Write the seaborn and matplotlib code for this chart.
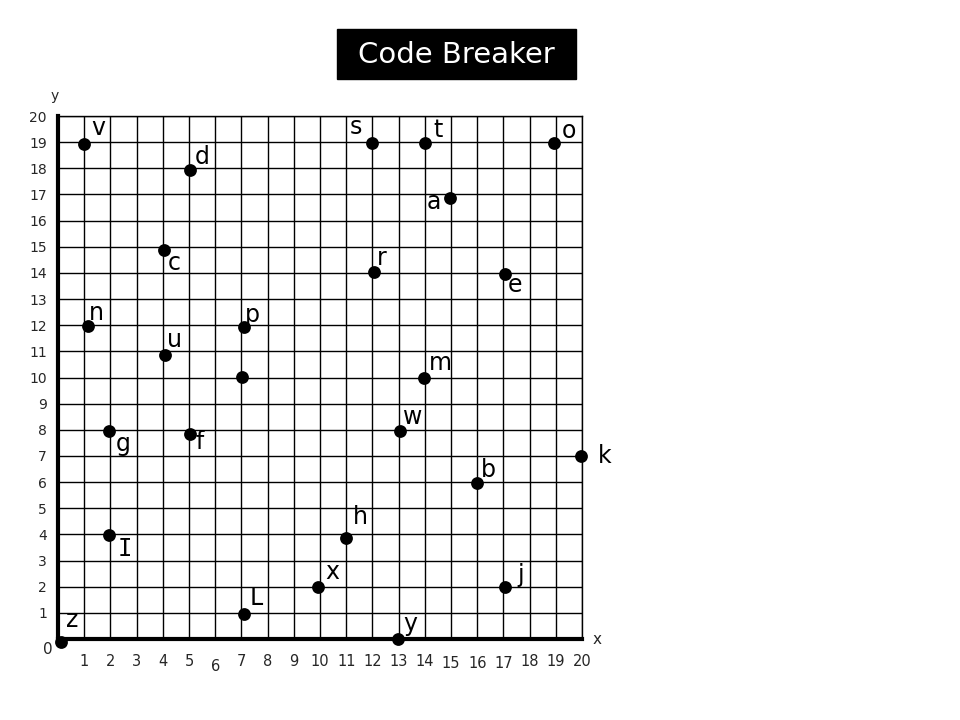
import numpy as np
import pandas as pd
import matplotlib
matplotlib.use('Agg')
import matplotlib.pyplot as plt
import matplotlib.transforms as mtransforms
from matplotlib.patches import Rectangle
import seaborn as sns

# code breaker points: letter, x, y  (blank letter = unlabelled point)
letters = ['v', 'd', 'c', 'n', 'u', 'p', '', 's', 't', 'o', 'a', 'r', 'e', 'm',
           'w', 'g', 'f', 'k', 'b', 'h', 'I', 'L', 'x', 'j', 'z', 'y']
xs = [1, 5.05, 4.03, 1.13, 4.07, 7.09, 7.03, 12, 14, 18.95, 14.97, 12.07, 17.05, 13.97,
      13.04, 1.95, 5.04, 19.96, 15.98, 11.0, 1.95, 7.09, 9.93, 17.05, 0.1, 12.99]
ys = [18.93, 17.93, 14.88, 11.97, 10.87, 11.93, 10.03, 18.98, 18.98, 18.98, 16.86, 14.02, 13.95, 10.0,
      7.95, 7.95, 7.85, 6.99, 5.97, 3.86, 3.98, 0.96, 1.99, 1.99, -0.1, 0.0]

grid_ticks = list(range(0, 21))
tick_labels = [''] + [str(i) for i in range(1, 21)]

# where each letter sits relative to its dot (pixels, right / up)
label_offset = {
    'v': (14, 16), 'd': (12, 13), 'c': (11, -13), 'n': (9, 13), 'u': (10, 15),
    'p': (9, 12), 's': (-17, 16), 't': (13, 13), 'o': (14, 12), 'a': (-16, -4),
    'r': (8, 14), 'e': (10, -11), 'm': (16, 15), 'w': (13, 14), 'g': (14, -13),
    'f': (10, -8), 'k': (24, 0), 'b': (12, 13), 'h': (14, 21), 'I': (16, -14),
    'L': (12, 16), 'x': (14, 15), 'j': (16, 12), 'z': (12, 22), 'y': (12, 15),
}

df = pd.DataFrame({'letter': letters, 'x': xs, 'y': ys})

sns.set_style('white')
plt.rcParams['font.family'] = ['DejaVu Sans']

fig = plt.figure(figsize=(9.6, 7.2), dpi=100)
ax = fig.add_axes([58 / 960, 81 / 720, 524 / 960, 523 / 720])

sns.scatterplot(data=df, x='x', y='y', color='black', s=85, edgecolor='black',
                linewidth=0, clip_on=False, zorder=5, ax=ax, legend=False)

for _, row in df.iterrows():
    if row['letter'] == '':
        continue
    dx, dy = label_offset[row['letter']]
    # capital I drawn with bars like the original handwriting font
    fam = ['DejaVu Sans Mono'] if row['letter'] == 'I' else ['DejaVu Sans']
    ax.annotate(row['letter'], (row['x'], row['y']), xytext=(dx, dy),
                textcoords='offset pixels', ha='center', va='center',
                fontsize=17, color='black', zorder=6, family=fam,
                annotation_clip=False)

# grid and axes
ax.set_xlim(0, 20)
ax.set_ylim(0, 20)
ax.set_xticks(grid_ticks)
ax.set_yticks(grid_ticks)
ax.set_xticklabels(tick_labels, fontsize=10.5)
ax.set_yticklabels(tick_labels, fontsize=10)
ax.grid(True, color='black', linewidth=1.0)
ax.set_axisbelow(True)
ax.tick_params(axis='both', length=0)
ax.tick_params(axis='x', pad=11)
ax.tick_params(axis='y', pad=8)
ax.set_xlabel('')
ax.set_ylabel('')
for side in ['left', 'bottom']:
    ax.spines[side].set_linewidth(3)
    ax.spines[side].set_color('black')
for side in ['top', 'right']:
    ax.spines[side].set_linewidth(1)
    ax.spines[side].set_color('black')

# a few x labels sit a little lower in the original
lower = {'6': 5, '15': 2, '16': 2, '17': 2}
for lab in ax.get_xticklabels():
    if lab.get_text() in lower:
        shift = mtransforms.ScaledTranslation(0, -lower[lab.get_text()] / 100, fig.dpi_scale_trans)
        lab.set_transform(lab.get_transform() + shift)

# axis names and origin
ax.annotate('0', (0, 0), xytext=(-10, -11), textcoords='offset pixels',
            ha='center', va='center', fontsize=11, annotation_clip=False)
ax.annotate('x', (20, 0), xytext=(15, 0), textcoords='offset pixels',
            ha='center', va='center', fontsize=11, annotation_clip=False)
ax.annotate('y', (0, 20), xytext=(-3, 20), textcoords='offset pixels',
            ha='center', va='center', fontsize=10, annotation_clip=False)

# title box
fig.patches.append(Rectangle((337 / 960, 1 - 79 / 720), 239 / 960, 50 / 720,
                             transform=fig.transFigure, color='black', zorder=0))
fig.text(456.5 / 960, 1 - 55 / 720, 'Code Breaker', color='white', fontsize=21,
         ha='center', va='center')

plt.savefig('out.png', dpi=100)
plt.close()
